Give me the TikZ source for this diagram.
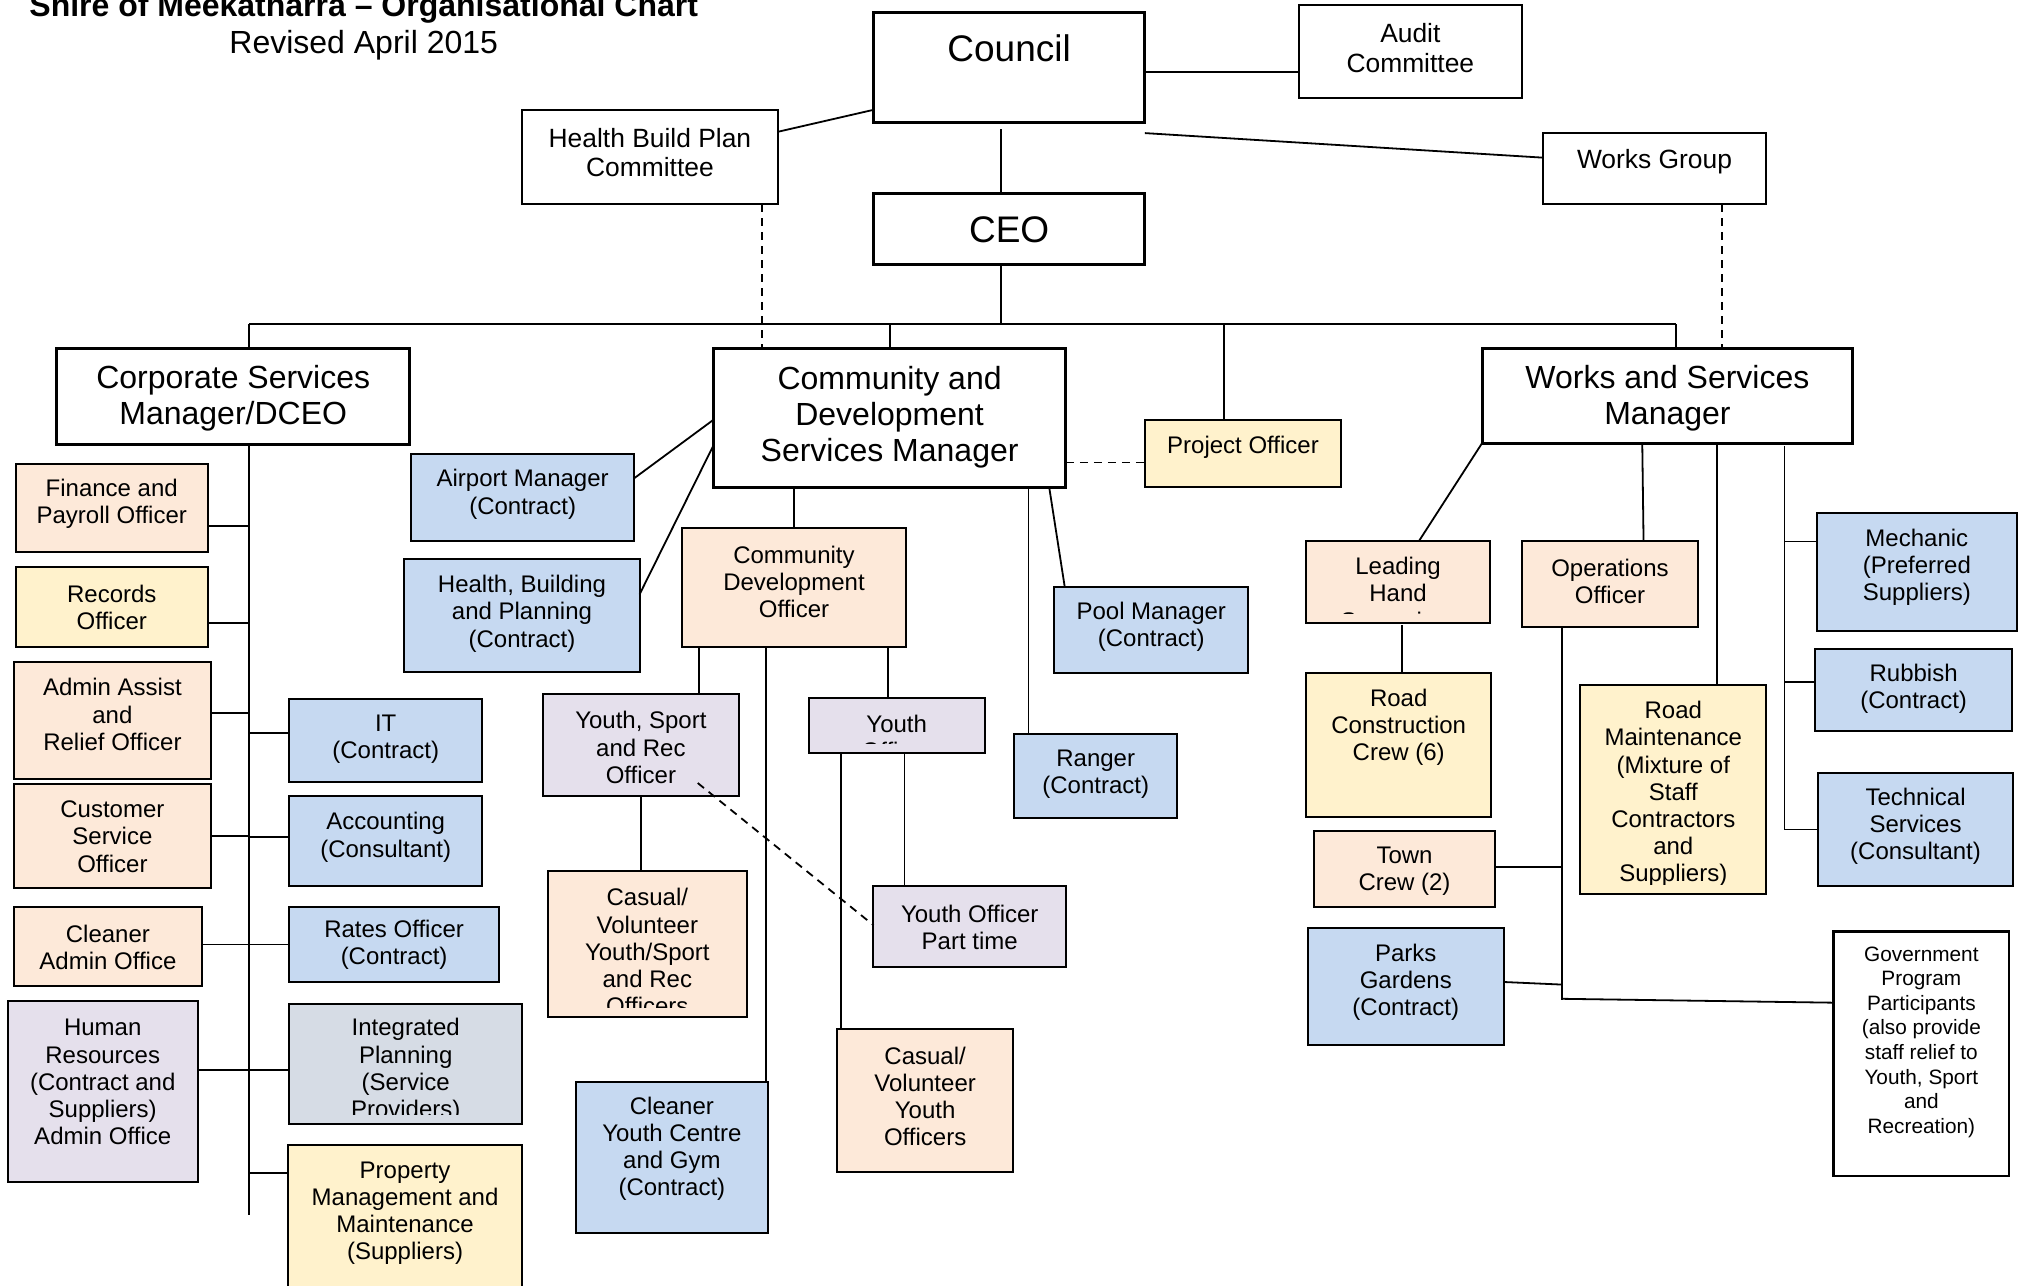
\documentclass[tikz,border=0pt]{standalone}
\usepackage{fontspec}
\setmainfont{Liberation Sans}
\newcommand\fs[2]{\fontsize{#1pt}{#2pt}\selectfont}
\definecolor{peach}{HTML}{FDE9D9}
\definecolor{ylw}{HTML}{FFF2CC}
\definecolor{blu}{HTML}{C6D9F1}
\definecolor{lav}{HTML}{E5E0EC}
\definecolor{gbl}{HTML}{D6DCE5}
\tikzset{
 box/.style={draw=black, line width=1pt, inner sep=0pt, outer sep=0pt, rectangle},
 big/.style={line width=1.5pt},
 txt/.style={align=center, inner sep=0pt, font=\fs{12}{13.6}},
 mtxt/.style={font=\fs{16}{18}},
 ctxt/.style={font=\fs{13.2}{14.9}},
 conn/.style={line width=0.9pt},
 dsh/.style={line width=0.9pt, dash pattern=on 4pt off 3pt},
}
% name, x1, y1, x2, y2, box style, text centre y, text style, text
\newcommand\bx[9]{%
 \pgfmathsetmacro\bxw{(#4-#2)*0.64605}%
 \pgfmathsetmacro\bxh{(#5-#3)*0.64605}%
 \node[box,#6,minimum width=\bxw pt,minimum height=\bxh pt] (#1) at ({(#2+#4)/2},{(#3+#5)/2}) {};
 \begin{scope}
 \clip (#2,#3) rectangle (#4,#5-7.5);
 \node[txt,#8] (#1t) at ({(#2+#4)/2},#7+1.5) {#9};
 \end{scope}}
\begin{document}
\begin{tikzpicture}[x=0.64605pt,y=-0.64605pt]
\useasboundingbox (0,0) rectangle (1568,995);
\fill[white] (0,0) rectangle (1568,995);

% titles
\node[font=\bfseries\fs{16}{18}, anchor=base, inner sep=0pt] (title) at (281.5,12.9) {Shire of Meekatharra – Organisational Chart};
\node[font=\fs{16}{18}, anchor=base, inner sep=0pt] (rev) at (281.5,41.3) {Revised April 2015};

% top level
\bx{council}{676}{10}{886}{95}{big}{36}{font=\fs{18.5}{21}}{Council}
\bx{audit}{1005}{4}{1178}{76}{}{35.5}{ctxt}{Audit\\Committee}
\bx{hbpc}{404}{85}{602}{158}{}{116.5}{ctxt}{Health Build Plan\\Committee}
\bx{works}{1194}{103}{1367}{158}{}{124}{ctxt}{Works Group}
\bx{ceo}{676}{150}{886}{205}{big}{176}{font=\fs{18.5}{21}}{CEO}

% managers
\bx{csm}{44}{270}{317}{344}{big}{307}{mtxt}{Corporate Services\\Manager/DCEO}
\bx{cdsm}{552}{270}{825}{377}{big}{321.5}{mtxt}{Community and\\Development\\Services Manager}
\bx{wsm}{1147}{270}{1434}{343}{big}{307}{mtxt}{Works and Services\\Manager}
\bx{proj}{886}{325}{1038}{377}{fill=ylw}{345}{}{Project Officer}

% corporate services
\bx{fin}{12}{359}{161}{427}{fill=peach}{388.5}{}{Finance and\\Payroll Officer}
\bx{rec}{12}{439}{161}{501}{fill=ylw}{468.5}{}{Records\\Officer}
\bx{adm}{11}{512}{163}{603}{fill=peach}{551.5}{}{Admin Assist\\and\\Relief Officer}
\bx{cso}{11}{607}{163}{687}{fill=peach}{646}{}{Customer\\Service\\Officer}
\bx{cln}{11}{702}{156}{763}{fill=peach}{731.5}{}{Cleaner\\Admin Office}
\bx{hr}{6}{775}{153}{915}{fill=lav}{836}{}{Human\\Resources\\(Contract and\\Suppliers)\\Admin Office}
\bx{it}{224}{541}{373}{605}{fill=blu}{570.5}{}{IT\\(Contract)}
\bx{acc}{224}{616}{373}{686}{fill=blu}{646.5}{}{Accounting\\(Consultant)}
\bx{rat}{224}{702}{386}{760}{fill=blu}{729.5}{}{Rates Officer\\(Contract)}
\bx{ip}{224}{777}{404}{870}{fill=gbl}{827}{}{Integrated\\Planning\\(Service\\Providers)}
\bx{prop}{223}{886}{404}{1004}{fill=ylw}{937.5}{}{Property\\Management and\\Maintenance\\(Suppliers)}

% community and development
\bx{air}{318}{351}{491}{419}{fill=blu}{381}{}{Airport Manager\\(Contract)}
\bx{hbp}{313}{433}{495}{520}{fill=blu}{473.5}{}{Health, Building\\and Planning\\(Contract)}
\bx{cdo}{528}{409}{701}{501}{fill=peach}{449}{}{Community\\Development\\Officer}
\bx{ysro}{420}{537}{572}{616}{fill=lav}{577}{}{Youth, Sport\\and Rec\\Officer}
\bx{cys}{424}{674}{578}{787}{fill=peach}{735}{}{Casual/\\Volunteer\\Youth/Sport\\and Rec\\Officers}
\bx{cyc}{446}{837}{594}{954}{fill=blu}{887.5}{}{Cleaner\\Youth Centre\\and Gym\\(Contract)}
\bx{yo}{626}{540}{762}{583}{fill=lav}{569.5}{}{Youth\\Officer}
\bx{yopt}{676}{686}{825}{748}{fill=lav}{716.5}{}{Youth Officer\\Part time}
\bx{cyo}{648}{796}{784}{907}{fill=peach}{847}{}{Casual/\\Volunteer\\Youth\\Officers}
\bx{rng}{785}{568}{911}{633}{fill=blu}{597.5}{}{Ranger\\(Contract)}
\bx{pool}{816}{454}{966}{521}{fill=blu}{483.5}{}{Pool Manager\\(Contract)}

% works and services
\bx{lead}{1011}{419}{1153}{482}{fill=peach}{459.5}{}{Leading\\Hand\\Supervisor}
\bx{ops}{1178}{419}{1314}{485}{fill=peach}{448.5}{}{Operations\\Officer}
\bx{rcc}{1011}{521}{1154}{632}{fill=ylw}{561.5}{}{Road\\Construction\\Crew (6)}
\bx{rm}{1223}{530}{1367}{692}{fill=ylw}{613}{}{Road\\Maintenance\\(Mixture of\\Staff\\Contractors\\and\\Suppliers)}
\bx{town}{1017}{643}{1157}{702}{fill=peach}{672.5}{}{Town\\Crew (2)}
\bx{park}{1012}{718}{1164}{809}{fill=blu}{758.5}{}{Parks\\Gardens\\(Contract)}
\bx{gov}{1419}{721}{1555}{910}{line width=1.2pt}{805}{font=\fs{10.4}{12.3}}{Government\\Program\\Participants\\(also provide\\staff relief to\\Youth, Sport\\and\\Recreation)}
\bx{mech}{1406}{397}{1561}{488}{fill=blu}{437.5}{}{Mechanic\\(Preferred\\Suppliers)}
\bx{rub}{1405}{502}{1557}{566}{fill=blu}{531.5}{}{Rubbish\\(Contract)}
\bx{tech}{1407}{598}{1558}{686}{fill=blu}{638}{}{Technical\\Services\\(Consultant)}

% ---- connectors: top
\draw[conn] (council.west |- 0,85) -- (hbpc.east |- 0,102);
\draw[conn] (council.east |- 0,56) -- (audit.west |- 0,56);
\draw[conn] (council.east |- 0,103) -- (works.west |- 0,122);
\coordinate (ceox) at (775,100);
\draw[conn] (ceox) -- (ceox |- ceo.north);
\coordinate (busc) at (775,251);
\draw[conn] (ceox |- ceo.south) -- (busc);
\coordinate (busl) at (193,251);
\coordinate (busr) at (1297,251);
\draw[conn] (busl) -- (busr);
\draw[conn] (busl) -- (busl |- csm.north);
\draw[conn] (cdsm.north |- busl) -- (cdsm.north);
\draw[conn] (947,0 |- busl) -- (947,0 |- proj.north);
\draw[conn] (busr) -- (busr |- wsm.north);
\draw[dsh] (590,0 |- hbpc.south) -- (590,0 |- cdsm.north);
\draw[dsh] (1333,0 |- works.south) -- (1333,0 |- wsm.north);
\draw[dsh] (cdsm.east |- 0,358) -- (proj.west |- 0,358);

% ---- corporate services
\coordinate (cspine) at (193,344);
\coordinate (cspineend) at (193,940);
\draw[conn] (cspine) -- (cspineend);
\draw[conn] (fin.east |- 0,407) -- (cspine |- 0,407);
\draw[conn] (rec.east |- 0,482) -- (cspine |- 0,482);
\draw[conn] (adm.east |- 0,552) -- (cspine |- 0,552);
\draw[conn] (cso.east |- 0,647) -- (cspine |- 0,647);
\draw[conn] (cln.east |- 0,731) -- (cspine |- 0,731);
\draw[conn] (hr.east |- 0,828) -- (cspine |- 0,828);
\draw[conn] (cspine |- 0,567) -- (it.west |- 0,567);
\draw[conn] (cspine |- 0,648) -- (acc.west |- 0,648);
\draw[conn] (cspine |- 0,731) -- (rat.west |- 0,731);
\draw[conn] (cspine |- 0,828) -- (ip.west |- 0,828);
\draw[conn] (cspine |- 0,908) -- (prop.west |- 0,908);

% ---- community and development
\draw[conn] (air.east |- 0,370) -- (cdsm.west |- 0,325);
\draw[conn] (hbp.east |- 0,460) -- (cdsm.west |- 0,345);
\draw[conn] (cdo.north |- cdsm.south) -- (cdo.north);
\draw[conn] (541,0 |- cdo.south) -- (541,0 |- ysro.north);
\draw[conn] (ysro.south) -- (ysro.south |- cys.north);
\draw[conn] (593,0 |- cdo.south) -- (593,0 |- cyc.north);
\draw[conn] (687,0 |- cdo.south) -- (687,0 |- yo.north);
\draw[conn] (700,0 |- yo.south) -- (700,0 |- yopt.north);
\draw[conn] (651,0 |- yo.south) -- (651,0 |- cyo.north);
\coordinate (ysrod) at (540,606);
\draw[dsh] (ysrod) -- (yopt.west |- 0,716);
\draw[conn] (796,0 |- cdsm.south) -- (796,0 |- rng.north);
\draw[conn] (812,0 |- cdsm.south) -- (824,0 |- pool.north);

% ---- works and services
\draw[conn] (wsm.south west) -- (1098,0 |- lead.north);
\draw[conn] (1271,0 |- wsm.south) -- (1272,0 |- ops.north);
\draw[conn] (1085,484) -- (1085,0 |- rcc.north);
\draw[conn] (1329,0 |- wsm.south) -- (1329,0 |- rm.north);
\coordinate (ospine) at (1209,485);
\coordinate (ospineend) at (1209,774);
\draw[conn] (ospine) -- (ospineend);
\draw[conn] (town.east |- 0,671) -- (ospine |- 0,671);
\draw[conn] (park.east |- 0,760) -- (ospine |- 0,762);
\draw[conn] (ospine |- 0,773) -- (gov.west |- 0,776);
\coordinate (wspine) at (1381,345);
\coordinate (wspineend) at (1381,642);
\draw[conn] (wspine) -- (wspineend);
\draw[conn] (wspine |- 0,419) -- (mech.west |- 0,419);
\draw[conn] (wspine |- 0,528) -- (rub.west |- 0,528);
\draw[conn] (wspine |- 0,642) -- (tech.west |- 0,642);
\end{tikzpicture}
\end{document}
